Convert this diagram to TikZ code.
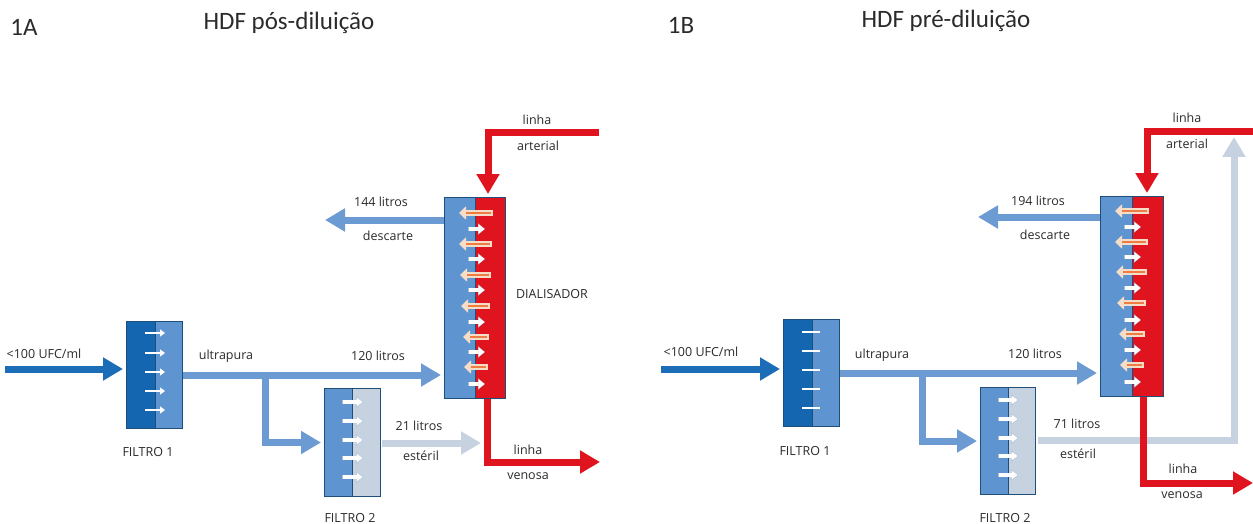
\documentclass[tikz,border=0pt]{standalone}
\usepackage{fontspec}
\setmainfont{Carlito}
\newfontfamily\labfont{Open Sans}
\usetikzlibrary{arrows.meta}
\definecolor{dkblue}{HTML}{1566B0}
\definecolor{midblue}{HTML}{5E95D0}
\definecolor{flowblue}{HTML}{6C9AD2}
\definecolor{inblue}{HTML}{1B6DB8}
\definecolor{grayblue}{HTML}{C6D2E0}
\definecolor{bloodred}{HTML}{E0141E}
\definecolor{edgeblue}{HTML}{1F4E79}
\definecolor{orangeflow}{HTML}{EE7C45}
\definecolor{creamflow}{HTML}{F5DDC8}
\definecolor{txt}{HTML}{2B2B2B}
\definecolor{halo}{HTML}{A9BCD2}
\tikzset{
  x=1pt,y=-1pt,
  flow/.style={line width=7pt,-{Triangle[length=20pt,width=22pt]},shorten >=3pt},
  bluein/.style={flow,draw=inblue},
  blueflow/.style={flow,draw=flowblue},
  steril/.style={flow,draw=grayblue},
  blood/.style={flow,draw=bloodred,line join=miter},
  outline/.style={draw=edgeblue,line width=1pt,inner sep=0pt,anchor=north west},
  smallh/.style={line width=4.6pt,draw=halo,-{Triangle[length=7pt,width=11pt]}},
  smallw/.style={line width=3.2pt,draw=white,-{Triangle[length=6pt,width=9pt]}},
  thinw/.style={line width=2.6pt,draw=white,-{Triangle[length=5pt,width=7pt]}},
  dashw/.style={line width=2.6pt,draw=white},
  smallo/.style={line width=6pt,draw=creamflow,-{Triangle[length=7pt,width=13pt]}},
  smallg/.style={line width=2.8pt,draw=orangeflow},
  lab/.style={font=\labfont\fontsize{12.5}{14}\selectfont,text=txt,inner sep=0pt},
  capt/.style={font=\labfont\fontsize{12.5}{14}\selectfont,text=txt,inner sep=0pt},
  ttl/.style={font=\fontsize{25}{29}\selectfont,text=txt,inner sep=0pt},
}
% name, x1, xsplit, x2, y1, y2, left colour, right colour
\newcommand{\halfbox}[8]{%
  \fill[#7] (#2,#5) rectangle (#3,#6);
  \fill[#8] (#3,#5) rectangle (#4,#6);
  \draw[edgeblue,line width=.8pt] (#3,#5) -- (#3,#6);
  \pgfmathsetmacro{\boxw}{#4-#2}\pgfmathsetmacro{\boxh}{#6-#5}
  \node[outline,minimum width=\boxw pt,minimum height=\boxh pt] (#1) at (#2,#5) {};
}
\newcommand{\haloarrow}[3]{%
  \draw[smallh] (#1,#3) -- (#2,#3); \draw[smallw] (#1+.5,#3) -- (#2-.5,#3);}
\begin{document}
\begin{tikzpicture}
\useasboundingbox (0,0) rectangle (1253,524);
\fill[white] (0,0) rectangle (1253,524);

% ---------- panel A ----------
\node[ttl] (ta) at (24,27) {1A};
\node[ttl] (tb) at (289,23) {HDF pós-diluição};
\halfbox{fa}{126}{155}{182}{321}{428}{dkblue}{midblue}
\halfbox{ga}{324}{352}{380}{388}{496}{midblue}{grayblue}
\halfbox{da}{444}{475}{505}{197}{398}{midblue}{bloodred}
\foreach \y in {333,353,372,391,410} \draw[thinw] (145,\y) -- (165,\y);
\foreach \y in {402,421,440,458,477} \haloarrow{342}{363}{\y};
\foreach \y/\a/\b in {213/493/459,244/492/459,275/491/460,306/490/461,337/489/463,367/488/464}{
  \draw[smallo] (\a,\y) -- (\b,\y); \draw[smallg] (\a-2,\y) -- (\b+7,\y);}
\foreach \y in {229,259,290,322,352,384} \haloarrow{468}{485}{\y};

\coordinate (ainl) at (5,369);
\coordinate (abr) at (265,374.5);
\coordinate (adis) at (322,220);
\coordinate (aart) at (599,133);
\coordinate (aartc) at (488,133);
\coordinate (aven) at (487,462);
\coordinate (avenend) at (603,462);
\coordinate (ast) at (382,443);
\coordinate (astend) at (484,443);
\draw[bluein] (ainl) -- (ainl -| fa.west);
\draw[blueflow] (fa.east) -- (fa.east -| da.west);
\draw[blueflow] (abr) |- (ga.west);
\draw[blueflow] (da.west |- adis) -- (adis);
\draw[blood] (aart) -- (aartc) -- (aartc |- da.north);
\draw[blood] (aven |- da.south) -- (aven) -- (avenend);
\draw[steril] (ast) -- (astend);

\node[lab] (a1) at (44,354) {<100 UFC/ml};
\node[lab] (a2) at (226,356) {ultrapura};
\node[lab] (a3) at (378,356) {120 litros};
\node[lab] (a4) at (381,202) {144 litros};
\node[lab] (a5) at (388,236) {descarte};
\node[lab] (a6) at (537,120) {linha};
\node[lab] (a7) at (538,146) {arterial};
\node[lab] (a8) at (552,294) {DIALISADOR};
\node[lab] (a9) at (419,426) {21 litros};
\node[lab] (a10) at (421,456) {estéril};
\node[lab] (a11) at (528,450) {linha};
\node[lab] (a12) at (528,476) {venosa};
\node[capt] (a13) at (148,452) {FILTRO 1};
\node[capt] (a14) at (350,518) {FILTRO 2};

% ---------- panel B ----------
\node[ttl] (tc) at (681,25) {1B};
\node[ttl] (td) at (946,21) {HDF pré-diluição};
\halfbox{fb}{783}{812}{839}{319}{426}{dkblue}{midblue}
\halfbox{gb}{980}{1008}{1035}{387}{494}{midblue}{grayblue}
\halfbox{db}{1100}{1132}{1163}{196}{396}{midblue}{bloodred}
\foreach \y in {332,351,370,389,408} \draw[dashw] (802,\y) -- (820,\y);
\foreach \y in {400,419,438,456,475} \haloarrow{998}{1018}{\y};
\foreach \y/\a/\b in {211/1149/1115,242/1148/1115,272/1147/1116,303/1146/1117,334/1145/1119,365/1144/1120}{
  \draw[smallo] (\a,\y) -- (\b,\y); \draw[smallg] (\a-2,\y) -- (\b+7,\y);}
\foreach \y in {227,257,288,320,350,382} \haloarrow{1124}{1141}{\y};

\coordinate (binl) at (661,369);
\coordinate (bbr) at (922,372.5);
\coordinate (bdis) at (975,217);
\coordinate (bart) at (1253,132);
\coordinate (bartc) at (1147,132);
\coordinate (bven) at (1143,483);
\coordinate (bvenend) at (1256,483);
\coordinate (bst) at (1038,440);
\coordinate (bstc) at (1234,440);
\coordinate (bstend) at (1234,134);
\draw[bluein] (binl) -- (binl -| fb.west);
\draw[blueflow] (fb.east) -- (fb.east -| db.west);
\draw[blueflow] (bbr) |- (gb.west);
\draw[blueflow] (db.west |- bdis) -- (bdis);
\draw[steril] (bst) -- (bstc) -- (bstend);
\draw[blood] (bart) -- (bartc) -- (bartc |- db.north);
\draw[blood] (bven |- db.south) -- (bven) -- (bvenend);

\node[lab] (b1) at (701,352) {<100 UFC/ml};
\node[lab] (b2) at (882,355) {ultrapura};
\node[lab] (b3) at (1035,354) {120 litros};
\node[lab] (b4) at (1038,201) {194 litros};
\node[lab] (b5) at (1045,235) {descarte};
\node[lab] (b6) at (1187,118) {linha};
\node[lab] (b7) at (1187,144) {arterial};
\node[lab] (b8) at (1077,424) {71 litros};
\node[lab] (b9) at (1078,454) {estéril};
\node[lab] (b10) at (1183,469) {linha};
\node[lab] (b11) at (1182,495) {venosa};
\node[capt] (b12) at (805,451) {FILTRO 1};
\node[capt] (b13) at (1005,518) {FILTRO 2};
\end{tikzpicture}
\end{document}
